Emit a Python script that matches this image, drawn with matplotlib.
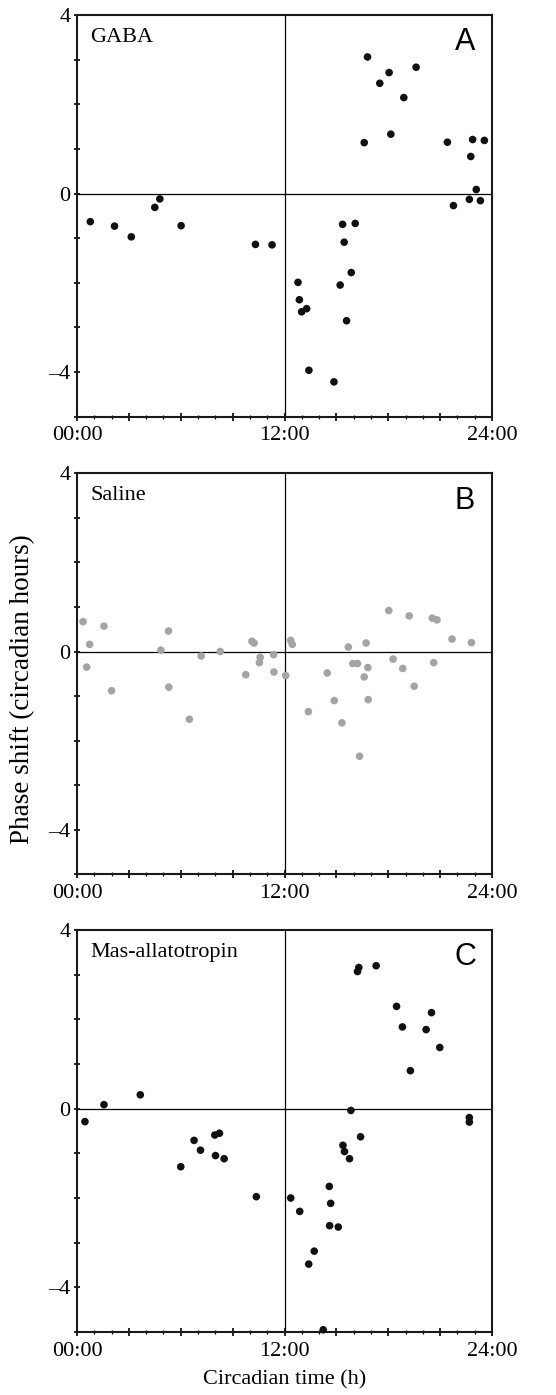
import matplotlib
matplotlib.use("Agg")
import matplotlib.pyplot as plt
from matplotlib.ticker import MultipleLocator, FixedLocator

# ---------------- data ----------------
gaba_x = [0.77, 2.17, 3.14, 4.50, 4.79, 6.02, 10.32, 11.28, 12.78, 12.86, 12.99, 13.28,
          13.41, 14.86, 15.22, 15.45, 15.36, 15.59, 15.86, 16.09, 16.80, 16.61, 17.51,
          18.05, 18.15, 18.90, 19.61, 21.42, 22.88, 22.77, 23.56, 23.09, 21.77, 22.69, 23.33]
gaba_y = [-0.63, -0.73, -0.97, -0.31, -0.12, -0.72, -1.14, -1.15, -1.99, -2.38, -2.65, -2.58,
          -3.96, -4.22, -2.05, -1.09, -0.69, -2.85, -1.77, -0.67, 3.06, 1.14, 2.47,
          2.71, 1.33, 2.15, 2.83, 1.15, 1.21, 0.83, 1.19, 0.09, -0.27, -0.13, -0.16]

saline_x = [0.35, 0.73, 0.56, 1.56, 2.00, 4.85, 5.29, 5.31, 7.18, 8.28, 6.50, 9.76, 10.12,
            10.24, 10.59, 10.55, 11.37, 11.39, 12.07, 12.36, 12.45, 13.38, 14.47, 14.88,
            15.69, 15.95, 16.22, 16.61, 16.72, 16.82, 16.84, 18.03, 18.28, 18.84, 19.21,
            19.50, 20.55, 20.82, 20.63, 21.69, 22.81, 15.32, 16.34]
saline_y = [0.67, 0.16, -0.35, 0.57, -0.88, 0.03, 0.46, -0.80, -0.10, 0.00, -1.52, -0.52, 0.23,
            0.19, -0.13, -0.25, -0.07, -0.46, -0.54, 0.25, 0.16, -1.35, -0.48, -1.10,
            0.10, -0.27, -0.27, -0.57, 0.19, -0.36, -1.08, 0.92, -0.17, -0.38, 0.80,
            -0.78, 0.75, 0.71, -0.25, 0.28, 0.20, -1.60, -2.35]

mas_x = [0.46, 1.56, 3.66, 6.77, 7.14, 7.97, 8.24, 8.01, 8.51, 15.84, 16.40, 15.38, 15.47,
         15.76, 16.22, 16.30, 17.30, 18.48, 18.82, 20.50, 20.19, 20.98, 19.28, 22.69, 22.69,
         6.00, 10.37, 12.36, 12.88, 14.59, 14.67, 14.61, 15.11, 13.72, 13.40, 14.24]
mas_y = [-0.29, 0.09, 0.31, -0.71, -0.93, -0.59, -0.55, -1.05, -1.12, -0.04, -0.63, -0.82, -0.96,
         -1.12, 3.07, 3.16, 3.20, 2.29, 1.83, 2.15, 1.77, 1.37, 0.85, -0.20, -0.30,
         -1.30, -1.97, -2.00, -2.30, -1.74, -2.12, -2.62, -2.65, -3.19, -3.48, -4.95]

panel_names = ["GABA", "Saline", "Mas-allatotropin"]
panel_letters = ["A", "B", "C"]
x_tick_pos = [0, 3, 6, 9, 12, 15, 18, 21, 24]
x_tick_labels = ["00:00", "", "", "", "12:00", "", "", "", "24:00"]
y_tick_pos = [-5, -4, -3, -2, -1, 0, 1, 2, 3, 4]
y_tick_labels = ["", "\u20134", "", "", "", "0", "", "", "", "4"]

# ---------------- figure ----------------
W, H = 556, 1395
fig = plt.figure(figsize=(W / 100, H / 100), dpi=100)
serif = "Liberation Serif"
sans = "Liberation Sans"

left = 77 / W
width = (492 - 77) / W
panels = [(15, 416.7), (473.3, 874.3), (930, 1332)]
datasets = [(gaba_x, gaba_y, "#111111"), (saline_x, saline_y, "#a4a4a4"), (mas_x, mas_y, "#111111")]

for i, ((top, bot), (xs, ys, col)) in enumerate(zip(panels, datasets)):
    ax = fig.add_axes([left, 1 - bot / H, width, (bot - top) / H])
    ax.set_xlim(0, 24)
    ax.set_ylim(-5, 4)
    ax.axhline(0, color="black", lw=0.9, zorder=1)
    ax.axvline(12, color="black", lw=0.9, zorder=1)
    ax.scatter(xs, ys, s=30, color=col, edgecolors="none", zorder=3, clip_on=False)
    for sp in ax.spines.values():
        sp.set_linewidth(1.5)
        sp.set_color("#1a1a1a")
    ax.xaxis.set_major_locator(FixedLocator(x_tick_pos))
    ax.xaxis.set_minor_locator(MultipleLocator(1))
    ax.set_xticklabels(x_tick_labels, family=serif, fontsize=16)
    ax.yaxis.set_major_locator(FixedLocator(y_tick_pos))
    ax.set_yticklabels(y_tick_labels, family=serif, fontsize=16)
    ax.tick_params(axis="x", which="major", direction="inout", length=6, width=1.2, pad=4)
    ax.tick_params(axis="x", which="minor", direction="inout", length=3, width=0.9)
    ax.tick_params(axis="y", which="major", direction="inout", length=5, width=1.2, pad=2)
    ax.text(0.032, 0.945, panel_names[i], transform=ax.transAxes, family=serif,
            fontsize=16, ha="left", va="center")
    ax.text(0.935, 0.932, panel_letters[i], transform=ax.transAxes, family=sans,
            fontsize=22, ha="center", va="center")
    if i == 2:
        ax.set_xlabel("Circadian time (h)", family=serif, fontsize=16, labelpad=7)

fig.text(23 / W, 1 - 689 / H, "Phase shift (circadian hours)", rotation=90,
         family=serif, fontsize=19.5, ha="center", va="center")

fig.savefig("out.png", dpi=100)
